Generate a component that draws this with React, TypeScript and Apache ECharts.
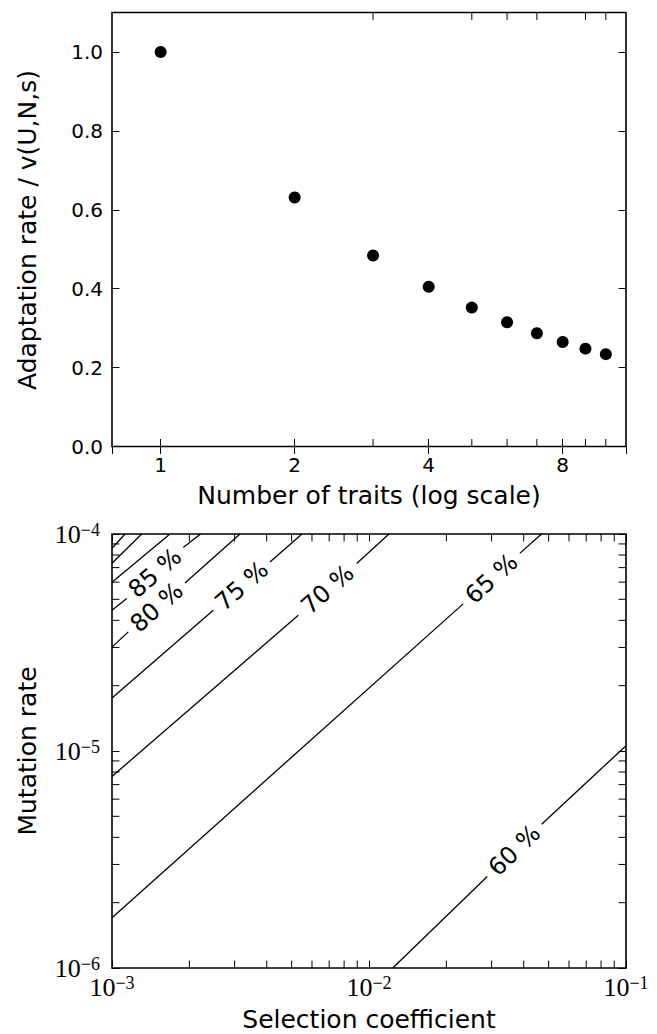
import React, { useEffect, useRef } from 'react';
import * as echarts from 'echarts';

// ---------- top panel data ----------
const traitCounts = [1, 2, 3, 4, 5, 6, 7, 8, 9, 10];
const relativeRates = [1.0, 0.631, 0.484, 0.405, 0.352, 0.315, 0.287, 0.265, 0.248, 0.234];
const traitMinorTicks = [3, 5, 6, 7, 9, 10];
const rateTickStep = 0.2;

// ---------- bottom panel data ----------
const selectionMinorTicks = [0.002, 0.003, 0.004, 0.005, 0.006, 0.007, 0.008, 0.009, 0.02, 0.03, 0.04, 0.05, 0.06, 0.07, 0.08, 0.09];
const mutationMinorTicks = [2e-6, 3e-6, 4e-6, 5e-6, 6e-6, 7e-6, 8e-6, 9e-6, 2e-5, 3e-5, 4e-5, 5e-5, 6e-5, 7e-5, 8e-5, 9e-5];

// contour lines: [selection coefficient, mutation rate] points, split where the label sits
const contour60 = [[[0.01237, 1e-6], [0.02886, 2.639e-6]], [[0.04697, 4.6e-6], [0.1, 1.0578e-5]]];
const contour65 = [[[0.001, 1.703e-6], [0.02325, 4.764e-5]], [[0.03862, 8.141e-5], [0.0469, 1e-4]]];
const contour70 = [[[0.001, 7.634e-6], [0.005307, 4.225e-5]], [[0.008955, 7.306e-5], [0.011964, 1e-4]]];
const contour75 = [[[0.001, 1.753e-5], [0.002478, 4.456e-5]], [[0.004119, 7.431e-5], [0.005486, 1e-4]]];
const contour80 = [[[0.001, 3.01e-5], [0.001157, 3.54e-5]], [[0.001923, 5.951e-5], [0.003148, 1e-4]]];
const contour85 = [[[0.001, 4.456e-5], [0.001141, 5.043e-5]], [[0.001894, 8.658e-5], [0.00221, 1e-4]]];
const contour90 = [[[0.001, 5.993e-5], [0.001681, 1e-4]]];
const contour95 = [[[0.001, 7.33e-5], [0.001305, 1e-4]]];
const contour100 = [[[0.001, 8.594e-5], [0.001124, 1e-4]]];
const contourLines = [contour60, contour65, contour70, contour75, contour80, contour85, contour90, contour95, contour100];

const contourLabelNames = ['60 %', '65 %', '70 %', '75 %', '80 %', '85 %'];
const contourLabelPositions = [
  [0.03682, 3.484e-6],
  [0.02997, 6.228e-5],
  [0.006896, 5.554e-5],
  [0.003196, 5.757e-5],
  [0.001492, 4.588e-5],
  [0.00147, 6.607e-5],
];
const contourLabelAngles = [43.7, 41.8, 41.2, 40.9, 41.5, 41.0];

const SANS = 'DejaVu Sans';
const SERIF = 'Liberation Serif';
const TICK_LEN = 7.5;

function sciLabel(v: number) {
  const e = Math.round(Math.log10(v));
  return '{b|10}{s|' + (e < 0 ? '\u2212' : '') + Math.abs(e) + '}';
}
const sciRich = {
  b: { fontSize: 26, fontFamily: SERIF, color: '#000', lineHeight: 26 },
  s: { fontSize: 18, fontFamily: SERIF, color: '#000', verticalAlign: 'top', lineHeight: 16 },
};

function minorTickSeries(data: number[][], xi: number, yi: number, horizontal: boolean) {
  return {
    type: 'custom',
    xAxisIndex: xi,
    yAxisIndex: yi,
    silent: true,
    clip: false,
    data,
    renderItem: (params: any, api: any) => {
      const cs = params.coordSys;
      const p = api.coord([api.value(0), api.value(1)]);
      const style = { stroke: '#000', lineWidth: 1 };
      if (horizontal) {
        const x = p[0];
        return {
          type: 'group',
          children: [
            { type: 'line', shape: { x1: x, y1: cs.y + cs.height, x2: x, y2: cs.y + cs.height - TICK_LEN }, style },
            { type: 'line', shape: { x1: x, y1: cs.y, x2: x, y2: cs.y + TICK_LEN }, style },
          ],
        };
      }
      const y = p[1];
      return {
        type: 'group',
        children: [
          { type: 'line', shape: { x1: cs.x, y1: y, x2: cs.x + TICK_LEN, y2: y }, style },
          { type: 'line', shape: { x1: cs.x + cs.width, y1: y, x2: cs.x + cs.width - TICK_LEN, y2: y }, style },
        ],
      };
    },
  };
}

export default function App() {
  const ref = useRef<HTMLDivElement>(null);
  useEffect(() => {
    if (!ref.current) return;
    const chart = echarts.init(ref.current, null, { renderer: 'svg' });

    const tickStyle = { show: true, inside: true, length: TICK_LEN, lineStyle: { color: '#000', width: 1 } };

    const series: any[] = [];
    series.push({
      type: 'scatter',
      xAxisIndex: 0,
      yAxisIndex: 0,
      symbol: 'circle',
      symbolSize: 12,
      itemStyle: { color: '#000', opacity: 1 },
      data: traitCounts.map((n, i) => [n, relativeRates[i]]),
    });
    series.push(minorTickSeries(traitMinorTicks.map((t) => [t, 0.5]), 0, 0, true));

    contourLines.forEach((segs) => {
      segs.forEach((seg) => {
        series.push({
          type: 'line',
          xAxisIndex: 2,
          yAxisIndex: 2,
          symbol: 'none',
          silent: true,
          lineStyle: { color: '#000', width: 1.3, opacity: 1 },
          data: seg,
        });
      });
    });
    series.push({
      type: 'scatter',
      xAxisIndex: 2,
      yAxisIndex: 2,
      symbolSize: 1,
      silent: true,
      itemStyle: { color: 'rgba(0,0,0,0)', opacity: 1 },
      label: {
        show: true,
        position: 'inside',
        formatter: '{b}',
        fontSize: 24,
        fontFamily: SANS,
        color: '#000',
        opacity: 1,
      },
      data: contourLabelNames.map((name, i) => ({
        name,
        value: contourLabelPositions[i],
        label: { rotate: contourLabelAngles[i] },
      })),
    });
    series.push(minorTickSeries(selectionMinorTicks.map((t) => [t, 1e-5]), 2, 2, true));
    series.push(minorTickSeries(mutationMinorTicks.map((t) => [0.01, t]), 2, 2, false));

    const option: any = {
      animation: false,
      backgroundColor: '#fff',
      grid: [
        { left: 112, top: 12.5, width: 514, height: 434, show: true, borderColor: '#000', borderWidth: 1.6, backgroundColor: 'transparent' },
        { left: 112, top: 534, width: 514, height: 434, show: true, borderColor: '#000', borderWidth: 1.6, backgroundColor: 'transparent' },
      ],
      xAxis: [
        {
          gridIndex: 0, type: 'log', logBase: 2, min: 0.7775, max: 11.1, position: 'bottom',
          axisLine: { show: false }, splitLine: { show: false }, axisTick: tickStyle,
          axisLabel: { show: true, showMinLabel: false, showMaxLabel: false, fontSize: 20, fontFamily: SANS, color: '#000', margin: 8,
            formatter: (v: number) => String(Math.round(v)) },
        },
        {
          gridIndex: 0, type: 'log', logBase: 2, min: 0.7775, max: 11.1, position: 'top',
          axisLine: { show: false }, splitLine: { show: false }, axisTick: tickStyle, axisLabel: { show: false },
        },
        {
          gridIndex: 1, type: 'log', logBase: 10, min: 0.001, max: 0.1, position: 'bottom',
          axisLine: { show: false }, splitLine: { show: false }, axisTick: tickStyle,
          axisLabel: { show: true, margin: 6, formatter: sciLabel, rich: sciRich },
        },
        {
          gridIndex: 1, type: 'log', logBase: 10, min: 0.001, max: 0.1, position: 'top',
          axisLine: { show: false }, splitLine: { show: false }, axisTick: tickStyle, axisLabel: { show: false },
        },
      ],
      yAxis: [
        {
          gridIndex: 0, type: 'value', min: 0, max: 1.1, interval: rateTickStep, position: 'left',
          axisLine: { show: false }, splitLine: { show: false }, axisTick: tickStyle,
          axisLabel: { show: true, showMaxLabel: false, fontSize: 20, fontFamily: SANS, color: '#000', margin: 9,
            formatter: (v: number) => v.toFixed(1) },
        },
        {
          gridIndex: 0, type: 'value', min: 0, max: 1.1, interval: rateTickStep, position: 'right',
          axisLine: { show: false }, splitLine: { show: false }, axisTick: tickStyle, axisLabel: { show: false },
        },
        {
          gridIndex: 1, type: 'log', logBase: 10, min: 1e-6, max: 1e-4, position: 'left',
          axisLine: { show: false }, splitLine: { show: false }, axisTick: tickStyle,
          axisLabel: { show: true, margin: 12, formatter: sciLabel, rich: sciRich },
        },
        {
          gridIndex: 1, type: 'log', logBase: 10, min: 1e-6, max: 1e-4, position: 'right',
          axisLine: { show: false }, splitLine: { show: false }, axisTick: tickStyle, axisLabel: { show: false },
        },
      ],
      graphic: [
        { type: 'text', x: 27, y: 230, rotation: Math.PI / 2,
          style: { text: 'Adaptation rate / v(U,N,s)', fontSize: 25, fontFamily: SANS, fill: '#000', align: 'center', verticalAlign: 'middle' } },
        { type: 'text', x: 369, y: 495,
          style: { text: 'Number of traits (log scale)', fontSize: 25, fontFamily: SANS, fill: '#000', align: 'center', verticalAlign: 'middle' } },
        { type: 'text', x: 27, y: 751, rotation: Math.PI / 2,
          style: { text: 'Mutation rate', fontSize: 25, fontFamily: SANS, fill: '#000', align: 'center', verticalAlign: 'middle' } },
        { type: 'text', x: 369, y: 1019,
          style: { text: 'Selection coefficient', fontSize: 25, fontFamily: SANS, fill: '#000', align: 'center', verticalAlign: 'middle' } },
      ],
      series,
    };
    chart.setOption(option);
    return () => chart.dispose();
  }, []);
  return <div ref={ref} style={{ position: 'absolute', left: 0, top: 0, width: 657, height: 1034 }} />;
}
